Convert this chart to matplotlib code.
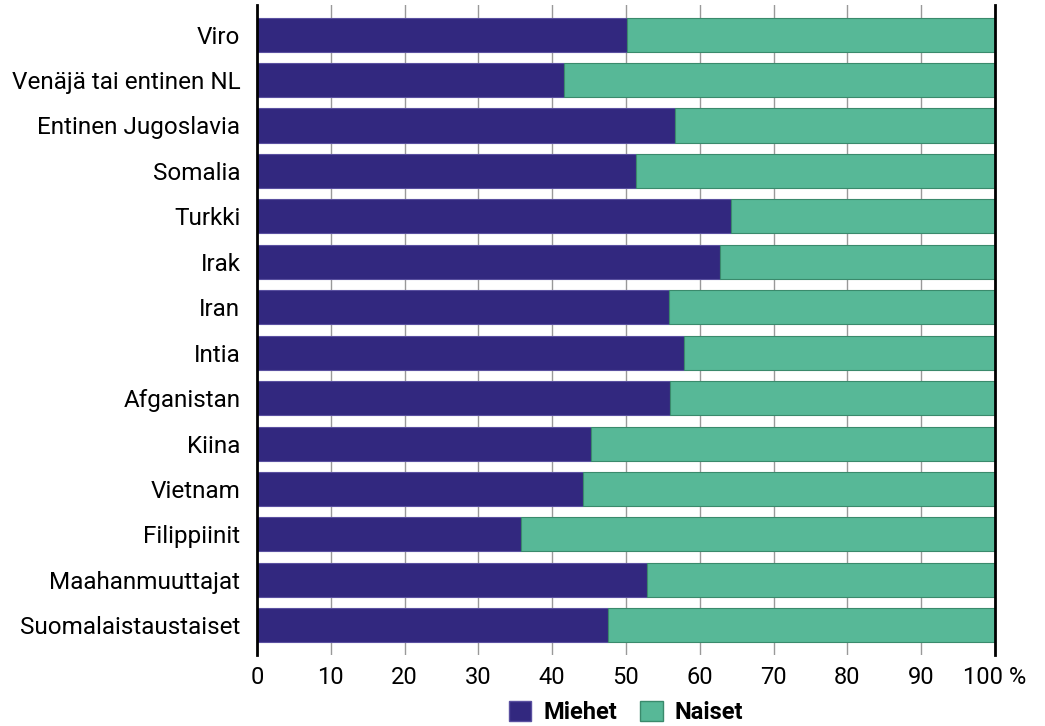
import numpy as np
import matplotlib
matplotlib.use("Agg")
import matplotlib.pyplot as plt
from matplotlib.patches import Patch

plt.rcParams["font.family"] = ["Roboto", "DejaVu Sans"]

# Data: share of men (%) by country of origin, women = 100 - men
countries = [
    "Viro",
    "Venäjä tai entinen NL",
    "Entinen Jugoslavia",
    "Somalia",
    "Turkki",
    "Irak",
    "Iran",
    "Intia",
    "Afganistan",
    "Kiina",
    "Vietnam",
    "Filippiinit",
    "Maahanmuuttajat",
    "Suomalaistaustaiset",
]
miehet = [50.2, 41.6, 56.6, 51.4, 64.2, 62.8, 55.8, 57.9, 56.0, 45.2, 44.2, 35.8, 52.8, 47.6]
naiset = [100 - m for m in miehet]

xticks = [0, 10, 20, 30, 40, 50, 60, 70, 80, 90, 100]
xticklabels = ["0", "10", "20", "30", "40", "50", "60", "70", "80", "90", "100 %"]

NAVY = "#32287f"
GREEN = "#57b897"

fig = plt.figure(figsize=(10.45, 7.26), dpi=100)
ax = fig.add_axes([0.246, 0.098, 0.706, 0.895])

y = np.arange(len(countries))
ax.barh(y, miehet, height=0.75, color=NAVY, edgecolor="#5a50a0", linewidth=0.8, zorder=3)
ax.barh(y, naiset, left=miehet, height=0.75, color=GREEN, edgecolor="#3a8a6c", linewidth=0.8, zorder=3)

ax.set_xlim(0, 100)
ax.set_ylim(len(countries) - 0.35, -0.65)
ax.set_yticks(y)
ax.set_yticklabels(countries, fontsize=17.5)
ax.set_xticks(xticks)
ax.set_xticklabels(xticklabels, fontsize=17)
ax.tick_params(axis="both", length=0, colors="black")
ax.tick_params(axis="x", pad=8)
ax.tick_params(axis="y", pad=12)

# Gridlines
ax.grid(axis="x", color="#999999", linewidth=1, zorder=0)
ax.grid(axis="y", visible=False)

for side in ["top", "bottom"]:
    ax.spines[side].set_visible(False)
for side in ["left", "right"]:
    ax.spines[side].set_linewidth(2)
    ax.spines[side].set_color("black")
    ax.spines[side].set_zorder(4)

handles = [
    Patch(facecolor=NAVY, edgecolor="#5a50a0", label="Miehet"),
    Patch(facecolor=GREEN, edgecolor="#3a8a6c", label="Naiset"),
]
leg = fig.legend(
    handles=handles,
    loc="center",
    bbox_to_anchor=(0.599, 0.019),
    ncol=2,
    frameon=False,
    prop={"size": 17, "weight": "bold"},
    handlelength=0.95,
    handleheight=0.95,
    handletextpad=0.5,
    columnspacing=1.0,
)

fig.savefig("out.png", dpi=100)
